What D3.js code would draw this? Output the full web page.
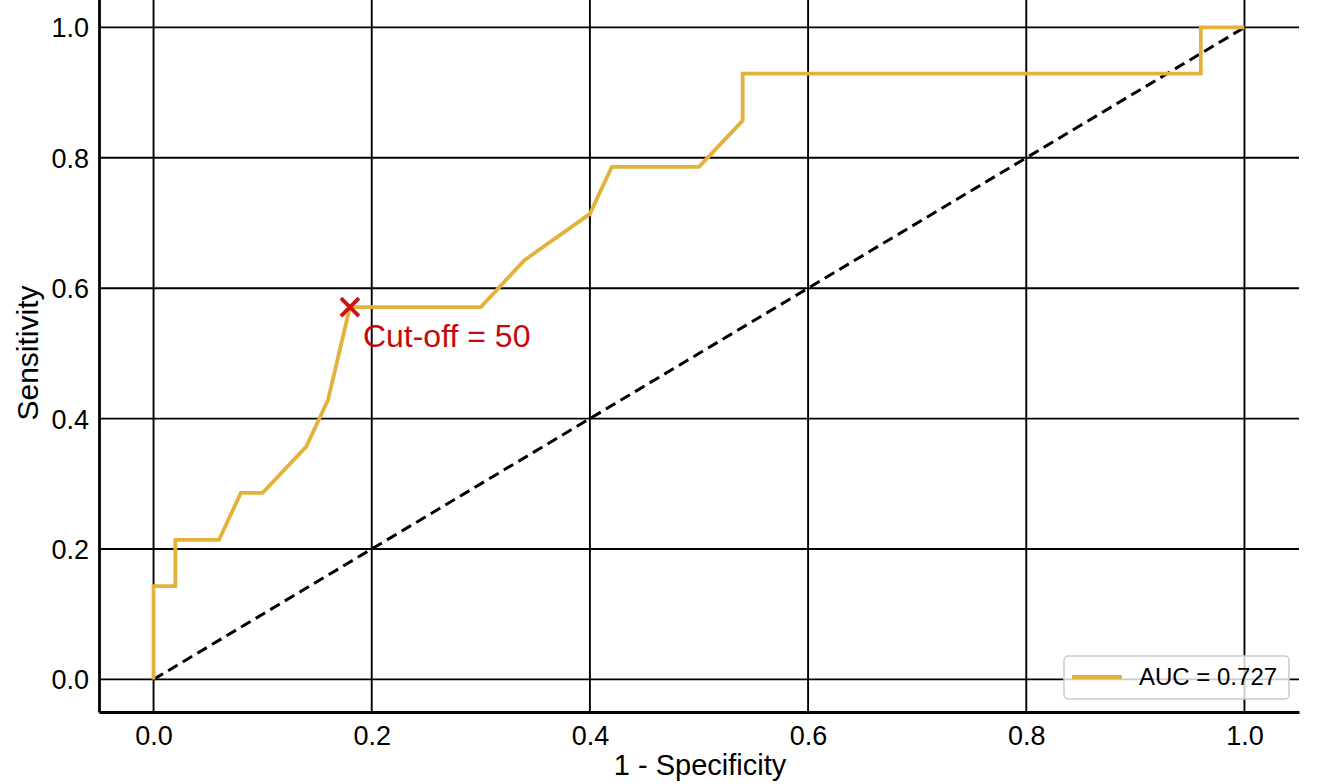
<!DOCTYPE html>
<html>
<head>
<meta charset="utf-8">
<script src="https://cdn.jsdelivr.net/npm/d3@7"></script>
<style>
  body { margin: 0; background: #fff; }
  text { font-family: "Liberation Sans", Arial, sans-serif; }
</style>
</head>
<body>
<div id="chart"></div>
<script>
// ROC curve points (1 - specificity, sensitivity)
const fpr = [0, 0, 0.02, 0.02, 0.06, 0.08, 0.10, 0.14, 0.16, 0.18, 0.30, 0.34, 0.40, 0.42, 0.50, 0.54, 0.54, 0.96, 0.96, 1.0];
const tpr = [0, 0.143, 0.143, 0.214, 0.214, 0.286, 0.286, 0.357, 0.429, 0.571, 0.571, 0.643, 0.714, 0.786, 0.786, 0.857, 0.929, 0.929, 1.0, 1.0];
const cutoff = {x: 0.18, y: 0.571, label: 'Cut-off = 50'};
const aucLabel = 'AUC = 0.727';
const xTicks = [0, 0.2, 0.4, 0.6, 0.8, 1.0];
const yTicks = [0, 0.2, 0.4, 0.6, 0.8, 1.0];

const svgWidth = 1330;
const svgHeight = 784;
const gold = '#e3b23c';

const svg = d3.select('#chart')
            .append('svg')
            .attr('width', svgWidth)
            .attr('height', svgHeight);

const x = d3.scaleLinear().domain([-0.05, 1.05]).range([99, 1299]);
const y = d3.scaleLinear().domain([-0.05, 1.05]).range([712, -5.2]);

// grid
svg.append('g').selectAll('line').data(xTicks).enter().append('line')
    .attr('x1', d => x(d)).attr('x2', d => x(d))
    .attr('y1', y(-0.05)).attr('y2', y(1.05))
    .attr('stroke', '#000').attr('stroke-width', 1.9);
svg.append('g').selectAll('line').data(yTicks).enter().append('line')
    .attr('x1', x(-0.05)).attr('x2', x(1.05))
    .attr('y1', d => y(d)).attr('y2', d => y(d))
    .attr('stroke', '#000').attr('stroke-width', 1.9);

// axes (labels only, spines drawn by domain path)
const bottomAxis = d3.axisBottom(x).tickValues(xTicks).tickFormat(d3.format('.1f')).tickSize(0).tickPadding(14);
const leftAxis = d3.axisLeft(y).tickValues(yTicks).tickFormat(d3.format('.1f')).tickSize(0).tickPadding(10);

const gx = svg.append('g').attr('transform', `translate(0,${y(-0.05)})`).call(bottomAxis);
const gy = svg.append('g').attr('transform', `translate(${x(-0.05)},0)`).call(leftAxis);
[gx, gy].forEach(g => {
    g.select('.domain').attr('stroke', '#000').attr('stroke-width', 2.8);
    g.selectAll('text').attr('font-size', 27).attr('fill', '#000')
        .attr('font-family', '"Liberation Sans", Arial, sans-serif');
});
gy.selectAll('text').attr('dy', '0.35em');

svg.append('text')
    .attr('x', 700).attr('y', 775)
    .attr('text-anchor', 'middle')
    .attr('font-size', 29)
    .text('1 - Specificity');

svg.append('text')
    .attr('transform', 'translate(38,353) rotate(-90)')
    .attr('text-anchor', 'middle')
    .attr('font-size', 30)
    .text('Sensitivity');

// chance diagonal
svg.append('line')
    .attr('x1', x(0)).attr('y1', y(0))
    .attr('x2', x(1)).attr('y2', y(1))
    .attr('stroke', '#000').attr('stroke-width', 3)
    .attr('stroke-dasharray', '11,6');

// ROC curve
const rocData = fpr.map((d, i) => ({x: d, y: tpr[i]}));
const line = d3.line().x(d => x(d.x)).y(d => y(d.y));
svg.append('path')
    .datum(rocData)
    .attr('d', line)
    .attr('fill', 'none')
    .attr('stroke', gold)
    .attr('stroke-width', 3.8)
    .attr('stroke-linejoin', 'miter');

// cut-off marker
const cx = x(cutoff.x), cy = y(cutoff.y), s = 9;
svg.append('path')
    .attr('d', `M${cx - s},${cy - s}L${cx + s},${cy + s}M${cx - s},${cy + s}L${cx + s},${cy - s}`)
    .attr('stroke', '#d01010').attr('stroke-width', 3.8);
svg.append('text')
    .attr('x', cx + 13).attr('y', cy + 40)
    .attr('font-size', 32)
    .attr('fill', '#c40a0a')
    .text(cutoff.label);

// legend
const legend = svg.append('g').attr('transform', 'translate(1064,656)');
legend.append('rect')
    .attr('width', 225).attr('height', 43).attr('rx', 4)
    .attr('fill', '#fff').attr('fill-opacity', 0.8)
    .attr('stroke', '#cccccc').attr('stroke-width', 1.5);
legend.append('line')
    .attr('x1', 8).attr('x2', 58).attr('y1', 21).attr('y2', 21)
    .attr('stroke', gold).attr('stroke-width', 3.8);
legend.append('text')
    .attr('x', 75).attr('y', 29)
    .attr('font-size', 24)
    .text(aucLabel);
</script>
</body>
</html>
